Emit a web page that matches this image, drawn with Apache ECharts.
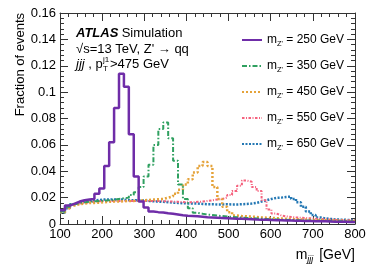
<!DOCTYPE html>
<html><head><meta charset="utf-8">
<script src="https://cdn.jsdelivr.net/npm/echarts@6/dist/echarts.min.js"></script>
<style>html,body{margin:0;padding:0;background:#fff}#c{width:374px;height:268px}</style>
</head><body><div id="c"></div>
<script>
// 60 bins from 100 to 800 GeV
const binStart = 100, binEnd = 800, nBins = 60;
const massLabels = ['250', '350', '450', '550', '650'];
const colors = ['#6f2da8', '#2fa060', '#e5a33a', '#f5627e', '#2478b4'];
const xTicks = [100, 200, 300, 400, 500, 600, 700, 800];
const yTicks = [0, 0.02, 0.04, 0.06, 0.08, 0.1, 0.12, 0.14, 0.16];

const m250 = [0.0105,0.014,0.0155,0.017,0.018,0.0185,0.019,0.023,0.027,0.044,
  0.062,0.088,0.114,0.104,0.068,0.036,0.017,0.0125,0.0095,0.009,
  0.0088,0.0082,0.0078,0.0072,0.0066,0.0062,0.006,0.0058,0.0055,0.0052,
  0.005,0.0048,0.0046,0.0044,0.0042,0.004,0.0039,0.0037,0.0036,0.0034,
  0.0033,0.0032,0.003,0.0029,0.0028,0.0027,0.0026,0.0025,0.0024,0.0023,
  0.0022,0.0021,0.002,0.002,0.0019,0.0018,0.0018,0.0017,0.0016,0.0016];
const m350 = [0.0095,0.013,0.015,0.016,0.0165,0.017,0.0172,0.0175,0.0178,0.018,
  0.0185,0.019,0.0195,0.02,0.022,0.024,0.028,0.036,0.045,0.06,
  0.072,0.077,0.065,0.048,0.03,0.019,0.012,0.0085,0.0078,0.0072,
  0.0068,0.0064,0.006,0.0057,0.0054,0.0051,0.0049,0.0046,0.0044,0.0042,
  0.004,0.0038,0.0036,0.0035,0.0033,0.0032,0.003,0.0029,0.0028,0.0027,
  0.0026,0.0025,0.0024,0.0023,0.0022,0.0021,0.002,0.002,0.0019,0.0018];
const m450 = [0.009,0.012,0.014,0.015,0.0155,0.016,0.016,0.0162,0.0165,0.0168,
  0.017,0.017,0.0172,0.0175,0.0175,0.0178,0.018,0.0182,0.0185,0.0188,
  0.019,0.02,0.021,0.023,0.026,0.03,0.034,0.039,0.044,0.047,
  0.044,0.028,0.019,0.013,0.009,0.0065,0.006,0.0058,0.0056,0.0053,
  0.005,0.0048,0.0046,0.0044,0.0042,0.004,0.0038,0.0036,0.0035,0.0033,
  0.0032,0.003,0.0029,0.0028,0.0027,0.0026,0.0025,0.0024,0.0023,0.0022];
const m550 = [0.0095,0.0125,0.0145,0.0155,0.016,0.0165,0.017,0.0172,0.0175,0.0175,
  0.0175,0.0175,0.0175,0.0175,0.0175,0.0175,0.0175,0.0175,0.0175,0.0175,
  0.0173,0.0172,0.017,0.0168,0.0166,0.0165,0.0165,0.0168,0.017,0.0175,
  0.018,0.0185,0.019,0.02,0.022,0.025,0.029,0.033,0.032,0.028,
  0.025,0.018,0.011,0.008,0.0065,0.0058,0.0053,0.005,0.0047,0.0045,
  0.0043,0.004,0.0038,0.0036,0.0034,0.0032,0.003,0.0029,0.0028,0.0027];
const m650 = [0.0085,0.012,0.015,0.016,0.017,0.0175,0.018,0.0182,0.0185,0.0185,
  0.0185,0.0185,0.0185,0.0182,0.018,0.018,0.0178,0.0175,0.0172,0.017,
  0.0168,0.0165,0.0162,0.016,0.0158,0.0156,0.0155,0.0155,0.0152,0.015,
  0.015,0.0148,0.0148,0.015,0.0148,0.0148,0.015,0.0152,0.0155,0.016,
  0.017,0.018,0.019,0.0198,0.02,0.0205,0.0208,0.019,0.0165,0.013,
  0.0095,0.0068,0.005,0.0042,0.0038,0.0035,0.0033,0.0032,0.003,0.003];
const seriesValues = [m250, m350, m450, m550, m650];

const FONT = 'Liberation Sans';
const binW = (binEnd - binStart) / nBins;
function histData(vals) {
  const d = vals.map((v, i) => [binStart + i * binW, v]);
  d.push([binEnd, vals[vals.length - 1]]);
  return d;
}
const dashes = ['solid', [5, 2, 1.5, 2], [2, 2], [2.5, 1.5, 1, 1.5], [2, 1.5]];
const widths = [2.5, 2, 2.5, 2, 2.5];

const chart = echarts.init(document.getElementById('c'), null, {renderer: 'canvas'});
const axisCommon = {
  axisLine: {show: true, onZero: false, lineStyle: {color: '#333', width: 1}},
  splitLine: {show: false},
  axisTick: {show: true, inside: true, length: 8, lineStyle: {color: '#333'}},
  minorTick: {show: true, splitNumber: 5, length: 4, lineStyle: {color: '#333'}},
};
const legendNames = massLabels.map(m => 'mZ' + m);
const option = {
  animation: false,
  textStyle: {fontFamily: FONT},
  grid: {left: 60, right: 19, top: 13, bottom: 44},
  xAxis: [
    Object.assign({type: 'value', min: xTicks[0], max: xTicks[xTicks.length - 1], interval: 100,
      axisLabel: {color: '#000', fontSize: 13, fontFamily: FONT, margin: 4}}, axisCommon),
    Object.assign({type: 'value', position: 'top', min: xTicks[0], max: xTicks[xTicks.length - 1], interval: 100,
      axisLabel: {show: false}}, axisCommon)
  ],
  yAxis: [
    Object.assign({type: 'value', min: yTicks[0], max: yTicks[yTicks.length - 1], interval: 0.02,
      axisLabel: {color: '#000', fontSize: 13, fontFamily: FONT, margin: 4,
        formatter: v => String(+v.toFixed(2))}}, axisCommon),
    Object.assign({type: 'value', position: 'right', min: yTicks[0], max: yTicks[yTicks.length - 1], interval: 0.02,
      axisLabel: {show: false}}, axisCommon)
  ],
  legend: {
    orient: 'vertical', left: 236, top: 29, itemWidth: 20, itemHeight: 14, itemGap: 12.5,
    data: legendNames,
    itemStyle: {opacity: 0},
    formatter: name => '{m|m}{s|Z\'} = ' + name.slice(2) + ' GeV',
    textStyle: {fontFamily: FONT, fontSize: 12, color: '#000',
      rich: {m: {fontSize: 12, fontFamily: FONT}, s: {fontSize: 7.5, fontFamily: FONT, padding: [7, 0, 0, 0]}}}
  },
  series: seriesValues.map((vals, k) => ({
    name: legendNames[k], type: 'line', step: 'end', data: histData(vals),
    showSymbol: false, symbol: 'none',
    lineStyle: {color: colors[k], width: widths[k], type: dashes[k]},
    itemStyle: {color: colors[k]},
    z: 5 - k
  })),
  graphic: [
    {type: 'text', x: 20, y: 13, rotation: Math.PI / 2,
      style: {text: 'Fraction of events', font: '13px ' + FONT, fill: '#000', align: 'right', verticalAlign: 'middle'}},
    {type: 'text', x: 355, y: 255,
      style: {text: '{m|m}{s|jjj} [GeV]', align: 'right', verticalAlign: 'middle', fill: '#000', font: '14px ' + FONT,
        rich: {m: {fontSize: 14, fontFamily: FONT}, s: {fontSize: 9, fontFamily: FONT, fontStyle: 'italic', padding: [8, 2, 0, 0]}}}},
    {type: 'text', x: 76, y: 33,
      style: {text: '{b|ATLAS} {n|Simulation}', verticalAlign: 'middle', fill: '#000',
        rich: {b: {fontSize: 13, fontWeight: 'bold', fontStyle: 'italic', fontFamily: FONT}, n: {fontSize: 13, fontFamily: FONT}}}},
    {type: 'text', x: 76, y: 49,
      style: {text: '\u221As=13 TeV, Z\' \u2192 qq', verticalAlign: 'middle', fill: '#000', font: '13px ' + FONT}},
    {type: 'text', x: 76, y: 64,
      style: {text: '{i|jjj}{n| , p}', verticalAlign: 'middle', fill: '#000',
        rich: {i: {fontSize: 13, fontStyle: 'italic', fontFamily: FONT}, n: {fontSize: 13, fontFamily: FONT}}}},
    {type: 'text', x: 103, y: 60, style: {text: 'j1', verticalAlign: 'middle', fill: '#000', font: '8px ' + FONT}},
    {type: 'text', x: 103, y: 69, style: {text: 'T', verticalAlign: 'middle', fill: '#000', font: '8px ' + FONT}},
    {type: 'text', x: 110, y: 64, style: {text: '>475 GeV', verticalAlign: 'middle', fill: '#000', font: '13px ' + FONT}}
  ]
};
chart.setOption(option);
</script></body></html>
